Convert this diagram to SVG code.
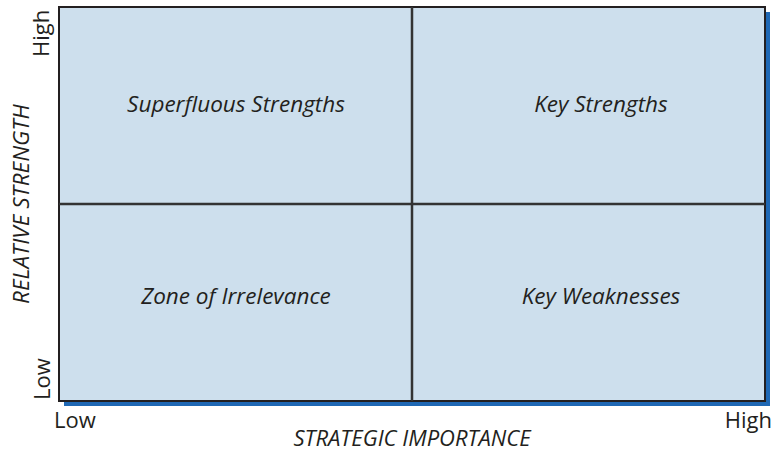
<svg xmlns="http://www.w3.org/2000/svg" width="775" height="451" viewBox="0 0 775 451">
<defs>
<style>
.q{font-family:"Open Sans","Liberation Sans",sans-serif;font-style:italic;font-size:22.5px;fill:#231f20;text-anchor:middle}
.ax{font-family:"Open Sans","Liberation Sans",sans-serif;font-size:22px;fill:#231f20}
.div{stroke:#333;stroke-width:2.5;fill:none}
</style>
</defs>
<rect width="775" height="451" fill="#fff"/>
<g id="matrix">
<rect x="64" y="12" width="706" height="394" fill="#1f68b4"/>
<rect x="59" y="7" width="706" height="394" fill="#cddfed" stroke="#231f20" stroke-width="2"/>
</g>
<g id="connectors">
<line class="div" x1="412" y1="7" x2="412" y2="401"/>
<line class="div" x1="59" y1="204" x2="765" y2="204"/>
</g>
<g id="q1"><text class="q" x="236" y="112">Superfluous Strengths</text></g>
<g id="q2"><text class="q" x="601" y="112">Key Strengths</text></g>
<g id="q3"><text class="q" x="236" y="304">Zone of Irrelevance</text></g>
<g id="q4"><text class="q" x="601" y="304">Key Weaknesses</text></g>
<g id="axes">
<text class="ax" x="54" y="428">Low</text>
<text class="ax" x="772" y="428" text-anchor="end">High</text>
<text class="q" x="412" y="446" style="font-size:22px">STRATEGIC IMPORTANCE</text>
<text class="ax" transform="translate(49,57) rotate(-90)">High</text>
<text class="ax" transform="translate(50,400) rotate(-90)">Low</text>
<text class="q" transform="translate(29,204) rotate(-90)">RELATIVE STRENGTH</text>
</g>
</svg>
